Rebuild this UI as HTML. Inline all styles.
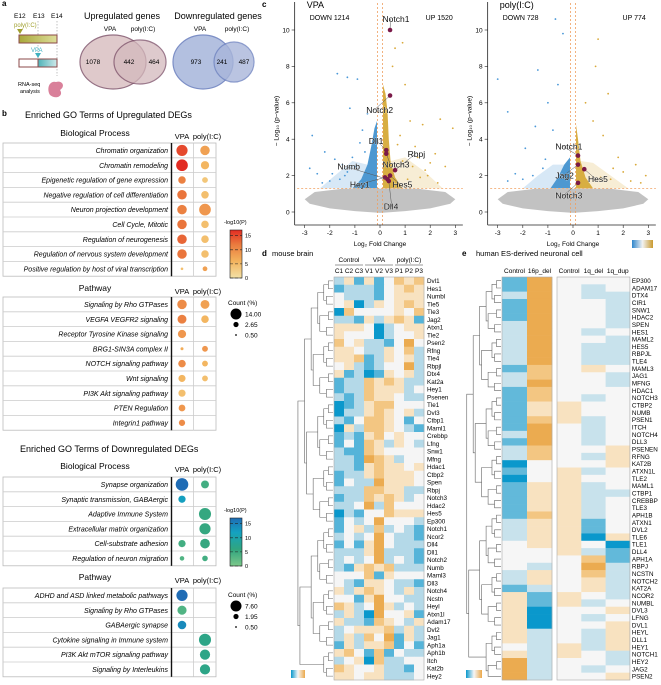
<!DOCTYPE html>
<html><head><meta charset="utf-8"><style>
html,body{margin:0;padding:0;background:#fff;}
svg{display:block;font-family:"Liberation Sans",Arial,sans-serif;}
</style></head><body>
<svg id="fig" width="661" height="685" viewBox="0 0 661 685" xmlns="http://www.w3.org/2000/svg">
<defs>
<linearGradient id="gUp" x1="0" y1="1" x2="0" y2="0"><stop offset="0" stop-color="#f3e1a6"/><stop offset="0.35" stop-color="#f3b35d"/><stop offset="0.7" stop-color="#ea7a3e"/><stop offset="1" stop-color="#e22b22"/></linearGradient>
<linearGradient id="gDn" x1="0" y1="1" x2="0" y2="0"><stop offset="0" stop-color="#7cc88a"/><stop offset="0.35" stop-color="#30a57f"/><stop offset="0.7" stop-color="#14a2c0"/><stop offset="1" stop-color="#1f6cb5"/></linearGradient>
<linearGradient id="gHm" x1="0" y1="0" x2="1" y2="0"><stop offset="0" stop-color="#0a98cc"/><stop offset="0.5" stop-color="#f6f6f6"/><stop offset="1" stop-color="#eba84a"/></linearGradient>
<linearGradient id="gTeal" x1="0" y1="0" x2="1" y2="0"><stop offset="0" stop-color="#4fb3b8"/><stop offset="1" stop-color="#cfe9ea"/></linearGradient>
<linearGradient id="gOlive" x1="0" y1="0" x2="1" y2="0"><stop offset="0" stop-color="#a8a83a"/><stop offset="1" stop-color="#dede9a"/></linearGradient>
</defs>

<g font-size="6.5">
<text x="2" y="6" font-weight="bold" font-size="8">a</text>
<text x="14" y="18">E12</text>
<text x="33" y="18">E13</text>
<text x="51" y="18">E14</text>
<line x1="38" y1="21" x2="38" y2="58" stroke="#999" stroke-dasharray="1.5,1.5" stroke-width="0.6"/>
<line x1="57" y1="21" x2="57" y2="76" stroke="#999" stroke-dasharray="1.5,1.5" stroke-width="0.6"/>
<text x="14" y="27" fill="#a0a030" font-size="6">poly(I:C)</text>
<path d="M17,29 L23,29 L20,34 Z" fill="#a0a030"/>
<rect x="19" y="35" width="38" height="8" fill="url(#gOlive)" stroke="#8b4a4a" stroke-width="1"/>
<text x="31" y="52" fill="#3fb0c0" font-size="6">VPA</text>
<path d="M35,53 L41,53 L38,58 Z" fill="#3fb0c0"/>
<rect x="19" y="59" width="38" height="8" fill="#fff" stroke="#8b4a4a" stroke-width="1"/>
<rect x="38" y="59" width="19" height="8" fill="url(#gTeal)" stroke="#8b4a4a" stroke-width="1"/>
<text x="18" y="86" font-size="5.5">RNA-seq</text>
<text x="20" y="93" font-size="5.5">analysis</text>
<path d="M50,95 C46,88 50,80 56,82 C62,80 66,86 60,90 C64,96 56,100 50,95 Z" fill="#d9809a"/>
<text x="122" y="19" text-anchor="middle" font-size="9">Upregulated genes</text>
<text x="110" y="31" text-anchor="middle">VPA</text>
<text x="143" y="31" text-anchor="middle">poly(I:C)</text>
<ellipse cx="113" cy="62" rx="33" ry="27" fill="#dcc4c6" stroke="#8a6277" stroke-width="1.2" opacity="0.9"/>
<ellipse cx="140" cy="62" rx="26" ry="22" fill="#d4b9bd" stroke="#7a4d66" stroke-width="1.2" opacity="0.75"/>
<text x="93" y="64" text-anchor="middle">1078</text>
<text x="129" y="64" text-anchor="middle">442</text>
<text x="154" y="64" text-anchor="middle">464</text>
<text x="218" y="19" text-anchor="middle" font-size="9">Downregulated genes</text>
<text x="200" y="31" text-anchor="middle">VPA</text>
<text x="237" y="31" text-anchor="middle">poly(I:C)</text>
<ellipse cx="203" cy="62" rx="30" ry="27" fill="#b3c0e0" stroke="#7d8fc6" stroke-width="1.2"/>
<ellipse cx="234" cy="62" rx="20" ry="20" fill="#a9b6da" stroke="#6f83c0" stroke-width="1.2" opacity="0.8"/>
<text x="196" y="64" text-anchor="middle">973</text>
<text x="222" y="64" text-anchor="middle">241</text>
<text x="244" y="64" text-anchor="middle">487</text>
</g>

<g id="pb"></g>
<g id="pc"></g>
<g id="pd"></g>
<g id="pe"></g>
</svg>
<script>
var NS="http://www.w3.org/2000/svg";
function mk(parent,tag,attrs,txt){var e=document.createElementNS(NS,tag);for(var k in attrs)e.setAttribute(k,attrs[k]);if(txt!=null)e.textContent=txt;parent.appendChild(e);return e;}

/* ---------- panel b data ---------- */
var upBPTerms=["Chromatin organization","Chromatin remodeling","Epigenetic regulation of gene expression","Negative regulation of cell differentiation","Neuron projection development","Cell Cycle, Mitotic","Regulation of neurogenesis","Regulation of nervous system development","Positive regulation by host of viral transcription"];
var upBPvpaCount=[11,12,5,8,8,8,8,8,0.6];
var upBPvpaP=[14,16,10,11,10,11,12,11,4];
var upBPpolyCount=[8,6,3,5,12,5,5,5,2];
var upBPpolyP=[7,5,3,4,8,4,4,4,7];
var upPWTerms=["Signaling by Rho GTPases","VEGFA VEGFR2 signaling","Receptor Tyrosine Kinase signaling","BRG1-SIN3A complex II","NOTCH signaling pathway","Wnt signaling","PI3K Akt signaling pathway","PTEN Regulation","Integrin1 pathway"];
var upPWvpaCount=[8,7,6,0.8,5,4.5,4.5,4,3.5];
var upPWvpaP=[9,10,8,6,9,5,4,8,9];
var upPWpolyCount=[7,5,0,3,3,3,0,0,0];
var upPWpolyP=[7,5,0,8,5,4,0,0,0];
var dnBPTerms=["Synapse organization","Synaptic transmission, GABAergic","Adaptive Immune System","Extracellular matrix organization","Cell-substrate adhesion","Regulation of neuron migration"];
var dnBPvpaCount=[7.6,2.5,0,0,2.5,1];
var dnBPvpaP=[16,11,0,0,4,3];
var dnBPpolyCount=[3,0,7,6,4.5,1.5];
var dnBPpolyP=[4,0,5,5,5,4];
var dnPWTerms=["ADHD and ASD linked metabolic pathways","Signaling by Rho GTPases","GABAergic synapse","Cytokine signaling in Immune system","PI3K Akt mTOR signaling pathway","Signaling by Interleukins"];
var dnPWvpaCount=[6,4,3.5,0,0,0];
var dnPWvpaP=[16,3,13,0,0,0];
var dnPWpolyCount=[0,0,0,7,5,5];
var dnPWpolyP=[0,0,0,6,6,6];

function lerpC(stops,t){t=Math.max(0,Math.min(1,t));var n=stops.length-1,i=Math.min(n-1,Math.floor(t*n)),f=t*n-i;var a=stops[i],b=stops[i+1];return "rgb("+[0,1,2].map(function(k){return Math.round(a[k]+(b[k]-a[k])*f)}).join(",")+")";}
var upStops=[[243,225,160],[243,179,93],[234,122,62],[226,43,34]];
var dnStops=[[124,200,138],[48,165,127],[20,162,192],[31,108,181]];
function rScale(c,max){return c<=0?0:Math.max(1,6.3*Math.sqrt(c/max));}

var pb=document.getElementById('pb');
mk(pb,'text',{x:2,y:116,'font-weight':'bold','font-size':8},'b');
function table(y0,terms,vc,vp,pc,pp,stops,max,header,hy,nm){
  var rh=14.8,g=mk(pb,'g',{});
  
  
  mk(g,'text',{x:95,y:hy,'text-anchor':'middle','font-size':8.5},header);
  mk(g,'text',{x:182,y:hy+3,'text-anchor':'middle','font-size':7.5},'VPA');
  mk(g,'text',{x:207,y:hy+3,'text-anchor':'middle','font-size':7.5},'poly(I:C)');
  var h=rh*terms.length;
  mk(g,'rect',{x:3,y:y0,width:213,height:h,fill:'#fff',stroke:'#bbb','stroke-width':0.8});
  for(var i=0;i<terms.length;i++){
    var y=y0+i*rh;
    if(i>0)mk(g,'line',{x1:3,x2:216,y1:y,y2:y,stroke:'#ccc','stroke-width':0.8});
    var t=mk(g,'text',{x:168,y:y+rh/2+2.6,'text-anchor':'end','font-size':7,'font-style':'italic'},terms[i]);
    
    
    if(vc[i]>0){var c=mk(g,'circle',{cx:182,cy:y+rh/2,r:rScale(vc[i],max),fill:lerpC(stops,vp[i]/16)});
      }
    if(pc[i]>0){var c2=mk(g,'circle',{cx:205,cy:y+rh/2,r:rScale(pc[i],max),fill:lerpC(stops,pp[i]/16)});
      }
  }
  mk(g,'line',{x1:171.5,x2:171.5,y1:y0,y2:y0+h,stroke:'#111','stroke-width':1.4});
  mk(g,'line',{x1:193.5,x2:193.5,y1:y0,y2:y0+h,stroke:'#ccc','stroke-width':0.8});
}
mk(pb,'text',{x:25,y:118,'font-size':9},'Enriched GO Terms of Upregulated DEGs');
table(143,upBPTerms,upBPvpaCount,upBPvpaP,upBPpolyCount,upBPpolyP,upStops,14,'Biological Process',136,'up-bp-table');
table(297,upPWTerms,upPWvpaCount,upPWvpaP,upPWpolyCount,upPWpolyP,upStops,14,'Pathway',291,'up-pathway-table');
mk(pb,'text',{x:20,y:452,'font-size':9},'Enriched GO Terms of Downregulated DEGs');
table(477,dnBPTerms,dnBPvpaCount,dnBPvpaP,dnBPpolyCount,dnBPpolyP,dnStops,7.6,'Biological Process',469,'down-bp-table');
table(588,dnPWTerms,dnPWvpaCount,dnPWvpaP,dnPWpolyCount,dnPWpolyP,dnStops,7.6,'Pathway',580,'down-pathway-table');
function cbar(y0,fill,ticks){
  var g=mk(pb,'g',{});
  mk(g,'text',{x:224,y:y0-6,'font-size':5.5},'-log10(P)');
  mk(g,'rect',{x:230,y:y0,width:12,height:48,fill:'url(#'+fill+')',stroke:'#222','stroke-width':0.6});
  ticks.forEach(function(v){var y=y0+48-v/17*48;mk(g,'line',{x1:230,x2:242,y1:y,y2:y,stroke:'#222','stroke-width':0.6,'stroke-dasharray':'3,2'});mk(g,'text',{x:245,y:y+2,'font-size':5.5},String(v));});
}
cbar(230,'gUp',[15,10,5,0]);cbar(518,'gDn',[15,10,5,0]);
function cleg(y0,vals){
  var g=mk(pb,'g',{});
  mk(g,'text',{x:228,y:y0,'font-size':6.5},'Count (%)');
  var rs=[5.5,2.6,0.9];vals.forEach(function(v,i){var y=y0+9+i*10.5;mk(g,'circle',{cx:236,cy:y,r:rs[i],fill:'#000'});mk(g,'text',{x:245,y:y+2.5,'font-size':6.5},v);});
}
cleg(305,['14.00','2.65','0.50']);cleg(597,['7.60','1.95','0.50']);

/* ---------- panel c data ---------- */
var vpaBlueX=[-2.8,-1.7,-1.3,-2.7,-2.2,-1.9,-1.2,-0.9,-1.1,-0.7,-0.5,-2.5,-1.5,-0.8,-1.6,-2.0,-1.3,-1.0,-0.6,-2.3,-1.8,-1.4];
var vpaBlueY=[2.4,7.6,7.4,4.2,3.3,2.1,5.7,7.3,3.0,4.5,5.4,2.1,2.6,3.8,1.8,1.7,2.2,2.5,3.3,1.6,2.9,2.0];
var vpaGoldX=[1.0,1.2,1.7,2.4,2.9,2.2,1.5,0.9,0.6,1.9,2.6,0.5,1.3,0.8,2.0,1.1,1.6,0.7,2.3,1.4,0.9,1.8];
var vpaGoldY=[7.0,5.0,4.8,5.1,4.6,3.2,3.0,9.3,9.0,2.0,2.5,8.0,2.5,4.2,2.7,1.8,1.9,3.7,1.6,3.6,2.8,2.3];
var pBlueX=[-3.0,-2.6,-2.3,-1.4,-0.7,-0.4,-1.5,-1.0,-0.6,-1.9,-0.8,-1.2,-2.0,-1.6,-1.1,-2.6];
var pBlueY=[7.3,5.5,2.1,7.8,10.6,9.8,4.7,6.0,7.0,3.5,4.5,2.4,1.8,2.0,2.9,1.7];
var pGoldX=[1.0,1.4,0.9,2.5,2.9,1.8,0.8,1.2,2.0,0.5,1.6,1.1,2.3,1.5,2.7];
var pGoldY=[9.5,6.5,8.0,2.6,2.0,3.0,5.0,4.2,2.2,6.0,2.4,1.9,1.7,1.8,1.6];
var vpaGenes=["Notch1","Notch2","Dll1","Notch3","Rbpj","Hes5","Hey1","Numb","Dll4"];
var vpaGeneX=[0.4,0.4,0.25,0.25,0.6,0.4,0.2,0.3,0.35];
var vpaGeneY=[10.0,6.4,3.4,3.2,2.3,2.0,1.9,1.8,1.7];
var vpaLabX=[0.1,-0.55,-0.45,0.1,1.1,0.5,-1.2,-1.7,0.15];
var vpaLabY=[10.6,5.6,3.9,2.6,3.2,1.5,1.5,2.5,0.3];
var pGenes=["Notch1","Jag2","Hes5","Notch3"];
var pGeneX=[0.2,0.2,0.45,0.2];
var pGeneY=[3.1,2.6,2.35,1.6];
var pLabX=[-0.7,-0.7,0.6,-0.7];
var pLabY=[3.6,2.0,1.8,0.9];
var xTicks=[-3,-2,-1,0,1,2,3];
var yTicks=[0,2,4,6,8,10];

var pc=document.getElementById('pc');
mk(pc,'text',{x:262,y:7,'font-weight':'bold','font-size':8},'c');
function volcano(x0,name,down,up,bx,by,gx,gy,genes,gX,gY,lX,lY,blob){
  var g=mk(pc,'g',{});
  function X(v){return x0+v*25.1;} function Y(v){return 212-v*18.2;}
  mk(g,'text',{x:X(-3)+2,y:8,'font-size':9},name==='vpa'?'VPA':'poly(I:C)');
  mk(g,'text',{x:X(-2.8),y:20,'font-size':7},down);
  mk(g,'text',{x:X(2.9),y:20,'font-size':7,'text-anchor':'end'},up);
  function poly(pts,fill,op){mk(g,'polygon',{points:pts.map(function(p){return X(p[0])+','+Y(p[1])}).join(' '),fill:fill,opacity:op,'stroke-linejoin':'round'});}
  poly(blob.blueL,'#8cbde6',0.35);
  poly(blob.goldL,'#e8cc88',0.35);
  poly(blob.gray,'#c2c2c2',1);
  poly(blob.blue,'#3a8dcc',0.9);
  poly(blob.gold,'#d4a52e',0.9);
  for(var i=0;i<bx.length;i++){var p=mk(g,'circle',{cx:X(bx[i]),cy:Y(by[i]),r:0.9,fill:'#4a98d8'});}
  for(var j=0;j<gx.length;j++){var q=mk(g,'circle',{cx:X(gx[j]),cy:Y(gy[j]),r:0.9,fill:'#d9a93a'});}
  mk(g,'line',{x1:X(-0.1),x2:X(-0.1),y1:3,y2:225,stroke:'#f0a060','stroke-dasharray':'2,2','stroke-width':0.8});
  mk(g,'line',{x1:X(0.1),x2:X(0.1),y1:3,y2:225,stroke:'#f0a060','stroke-dasharray':'2,2','stroke-width':0.8});
  mk(g,'line',{x1:X(-3.3),x2:X(3.3),y1:Y(1.3),y2:Y(1.3),stroke:'#f0a060','stroke-dasharray':'2,2','stroke-width':0.8});
  for(var k=0;k<genes.length;k++){
    mk(g,'line',{x1:X(gX[k]),y1:Y(gY[k]),x2:X(lX[k])+8,y2:Y(lY[k]),stroke:'#555','stroke-width':0.5});
    var gp=mk(g,'circle',{cx:X(gX[k]),cy:Y(gY[k]),r:2.3,fill:'#7a1a48'});
    var gt=mk(g,'text',{x:X(lX[k]),y:Y(lY[k])+3,'font-size':8.5,fill:'#111',stroke:'#fff','stroke-width':0.4,'paint-order':'stroke'},genes[k]);
  }
  mk(g,'line',{x1:X(-3.4),x2:X(-3.4),y1:2,y2:225,stroke:'#222','stroke-width':0.8});
  mk(g,'line',{x1:X(-3.4),x2:X(3.3),y1:225,y2:225,stroke:'#222','stroke-width':0.8});
  xTicks.forEach(function(v){mk(g,'line',{x1:X(v),x2:X(v),y1:225,y2:228,stroke:'#222','stroke-width':0.6});mk(g,'text',{x:X(v),y:235,'text-anchor':'middle','font-size':6.5},String(v));});
  yTicks.forEach(function(v){mk(g,'line',{x1:X(-3.4)-3,x2:X(-3.4),y1:Y(v),y2:Y(v),stroke:'#222','stroke-width':0.6});mk(g,'text',{x:X(-3.4)-5,y:Y(v)+2.3,'text-anchor':'end','font-size':6.5},String(v));});
  mk(g,'text',{x:X(0),y:246,'text-anchor':'middle','font-size':6.5},'Log\u2082 Fold Change');
  mk(g,'text',{x:0,y:0,'font-size':6.5,'text-anchor':'middle',transform:'translate('+(X(-3.4)-16)+','+Y(5)+') rotate(-90)'},'\u2212 Log\u2081\u2080 (p\u2212value)');
}
volcano(380,'vpa','DOWN 1214','UP 1520',vpaBlueX,vpaBlueY,vpaGoldX,vpaGoldY,vpaGenes,vpaGeneX,vpaGeneY,vpaLabX,vpaLabY,{
 gray:[[-3.0,0.7],[-2.6,1.1],[-1.5,1.28],[1.5,1.28],[2.6,1.1],[3.0,0.7],[2.8,0.45],[2,0.2],[1,0.05],[0,-0.05],[-1,0.05],[-2,0.2],[-2.8,0.45]],
 blue:[[-0.12,1.3],[-1.1,1.3],[-0.75,1.8],[-0.5,2.6],[-0.35,3.6],[-0.22,4.6],[-0.12,5.0]],
 gold:[[0.12,1.3],[0.9,1.3],[0.6,1.9],[0.42,2.8],[0.35,4.0],[0.3,5.5],[0.22,6.5],[0.12,7.0]],
 blueL:[[-1.1,1.3],[-2.4,1.3],[-1.8,2.0],[-1.1,2.8],[-0.5,2.6],[-0.75,1.8]],
 goldL:[[0.9,1.3],[2.5,1.3],[1.8,2.2],[1.0,3.0],[0.42,2.8],[0.6,1.9]]});
volcano(573,'polyic','DOWN 728','UP 774',pBlueX,pBlueY,pGoldX,pGoldY,pGenes,pGeneX,pGeneY,pLabX,pLabY,{
 gray:[[-3.0,0.7],[-2.6,1.1],[-1.5,1.28],[1.5,1.28],[2.6,1.1],[3.0,0.7],[2.8,0.45],[2,0.2],[1,0.05],[0,-0.05],[-1,0.05],[-2,0.2],[-2.8,0.45]],
 blue:[[-0.12,1.3],[-0.9,1.3],[-0.6,1.9],[-0.35,2.6],[-0.12,3.0]],
 gold:[[0.12,1.3],[0.8,1.3],[0.5,1.9],[0.3,2.8],[0.2,4.0],[0.12,4.8]],
 blueL:[[-0.9,1.3],[-2.0,1.3],[-1.4,2.0],[-0.8,2.6],[-0.35,2.6],[-0.6,1.9]],
 goldL:[[0.8,1.3],[2.2,1.3],[1.5,2.0],[0.8,2.7],[0.3,2.8],[0.5,1.9]]});
(function(){var g=mk(pc,'g',{});
 var lg=mk(g,'linearGradient',{id:'gV',x1:0,x2:1,y1:0,y2:0});mk(lg,'stop',{offset:0,'stop-color':'#2f86cc'});mk(lg,'stop',{offset:0.5,'stop-color':'#f2f2f2'});mk(lg,'stop',{offset:1,'stop-color':'#c99a2e'});
 mk(g,'rect',{x:632,y:240,width:21,height:8,fill:'url(#gV)'});})();

/* ---------- panel d data ---------- */
var dGenes=["Dvl1","Hes1","Numbl","Tle5","Tle3","Jag2","Atxn1","Tle2","Psen2","Rfng","Tle4","Rbpjl","Dtx4","Kat2a","Hey1","Psenen","Tle1","Dvl3","Ctbp1","Maml1","Crebbp","Lfng","Snw1","Mfng","Hdac1","Ctbp2","Spen","Rbpj","Notch3","Hdac2","Hes5","Ep300","Notch1","Ncor2","Dll4","Dll1","Notch2","Numb","Maml3","Dll3","Notch4","Ncstn","Heyl","Atxn1l","Adam17","Dvl2","Jag1","Aph1a","Aph1b","Itch","Kat2b","Hey2"];
var dSamples=["C1","C2","C3","V1","V2","V3","P1","P2","P3"];
var dValues=["241413545","122213454","322213444","340243454","053333435","221424541","444302344","433302334","534221363","443224352","445124342","342123362","412014342","122545422","122544423","212544322","012455333","022454342","213554313","042554321","121453433","131542432","211543333","221654233","221454434","122454443","132264443","222554422","122545423","223625333","021335444","132363332","134252321","232363221","131463222","222462221","232362321","214545222","333514333","321443221","424543242","331463322","542364232","242063341","422154324","234445242","242536142","142445131","453151322","234052233","543342213","443442223"];
var hmColors=["#0a98cc","#55b4d9","#b4d9e8","#f5f5f5","#f8e2c0","#f3c682","#ebab50"];

var pd=document.getElementById('pd');
mk(pd,'text',{x:262,y:256,'font-weight':'bold','font-size':8},'d');
mk(pd,'text',{x:272,y:256,'font-size':7.5},'mouse brain');
function dendro(g,x0,x1,y0,rh,n){
  var nodes=[];for(var i=0;i<n;i++)nodes.push({y:y0+(i+0.5)*rh,x:x1});
  var lvl=0;var w=x1-x0;
  while(nodes.length>1){lvl++;var nx=[];
    for(var i=0;i<nodes.length;i+=2){
      if(i+1<nodes.length){var a=nodes[i],b=nodes[i+1];var xx=x1-w*Math.min(1,lvl/6.2)*(0.7+0.3*((i/2)%2));
        xx=Math.min(xx,a.x-2,b.x-2);
        mk(g,'path',{d:'M'+a.x+','+a.y+'H'+xx+'V'+b.y+'H'+b.x,fill:'none',stroke:'#666','stroke-width':0.6});
        nx.push({y:(a.y+b.y)/2,x:xx});}
      else nx.push(nodes[i]);}
    nodes=nx;}
}
(function(){
  var x0=334,cw=10,y0=277,rh=403/52;
  var g=mk(pd,'g',{});
  [['Control',0],['VPA',3],['poly(I:C)',6]].forEach(function(h){mk(g,'text',{x:x0+(h[1]+1.5)*cw,y:262,'text-anchor':'middle','font-size':6.5},h[0]);mk(g,'line',{x1:x0+h[1]*cw+1,x2:x0+(h[1]+3)*cw-1,y1:265,y2:265,stroke:'#333','stroke-width':0.5});});
  dSamples.forEach(function(s,i){mk(g,'text',{x:x0+(i+0.5)*cw,y:273,'text-anchor':'middle','font-size':6.5},s);});
  for(var r=0;r<dGenes.length;r++){for(var c=0;c<dSamples.length;c++){
    var cell=mk(g,'rect',{x:x0+c*cw,y:y0+r*rh,width:cw+0.3,height:rh+0.3,fill:hmColors[+dValues[r][c]]});
    }
    var t=mk(g,'text',{x:x0+9*cw+3,y:y0+r*rh+rh/2+2.3,'font-size':6.3},dGenes[r]);
    }
  mk(g,'rect',{x:x0,y:y0,width:9*cw,height:52*rh,fill:'none',stroke:'#aaa','stroke-width':0.6});
  dendro(g,292,333,y0,rh,52);
  mk(g,'rect',{x:291,y:670,width:14,height:8,fill:'url(#gHm)'});
})();

/* ---------- panel e data ---------- */
var eGenes=["EP300","ADAM17","DTX4","CIR1","SNW1","HDAC2","SPEN","HES1","MAML2","HES5","RBPJL","TLE4","MAML3","JAG1","MFNG","HDAC1","NOTCH3","CTBP2","NUMB","PSEN1","ITCH","NOTCH4","DLL3","PSENEN","RFNG","KAT2B","ATXN1L","TLE2","MAML1","CTBP1","CREBBP","TLE3","APH1B","ATXN1","DVL2","TLE6","TLE1","DLL4","APH1A","RBPJ","NCSTN","NOTCH2","KAT2A","NCOR2","NUMBL","DVL3","LFNG","DVL1","HEYL","DLL1","HEY1","NOTCH1","HEY2","JAG2","PSEN2"];
var e16pGroups=["Control","16p_del"];
var e16pValues=["16","16","26","16","16","16","26","26","26","26","26","26","15","25","26","15","15","14","14","15","16","26","16","25","25","03","13","03","14","14","14","14","15","24","24","24","34","33","33","32","24","24","12","41","41","40","40","40","42","42","32","42","62","62","62"];
var e1qGroups=["Control","1q_del","1q_dup"];
var e1qValues=["333","323","322","332","332","332","332","323","332","322","322","322","343","332","332","333","323","433","433","423","323","323","323","334","324","334","423","433","423","422","423","423","423","413","413","404","430","421","351","362","352","342","342","432","423","334","323","334","324","324","424","432","332","323","334"];

var pe=document.getElementById('pe');
mk(pe,'text',{x:462,y:256,'font-weight':'bold','font-size':8},'e');
mk(pe,'text',{x:476,y:256,'font-size':7.5},'human ES-derived neuronal cell');
(function(){
  var y0=277,rh=403/eGenes.length;
  var g=mk(pe,'g',{});
  var xl=502,cw1=25,xr=557,cw2=24.3;
  var eCol=["#0a98cc","#62b9da","#c8e2ec","#f6f6f6","#f8e2c0","#f3c682","#ebab50"];
  e16pGroups.forEach(function(s,i){mk(g,'text',{x:xl+(i+0.5)*cw1,y:273,'text-anchor':'middle','font-size':6.5},s);});
  e1qGroups.forEach(function(s,i){mk(g,'text',{x:xr+(i+0.5)*cw2,y:273,'text-anchor':'middle','font-size':6.5},s);});
  for(var r=0;r<eGenes.length;r++){
    for(var c=0;c<2;c++){var a=mk(g,'rect',{x:xl+c*cw1,y:y0+r*rh,width:cw1+0.3,height:rh+0.3,fill:eCol[+e16pValues[r][c]]});}
    for(var c2=0;c2<3;c2++){var b=mk(g,'rect',{x:xr+c2*cw2,y:y0+r*rh,width:cw2+0.3,height:rh+0.3,fill:eCol[+e1qValues[r][c2]]});}
    var t=mk(g,'text',{x:xr+3*cw2+2,y:y0+r*rh+rh/2+2.3,'font-size':6.3},eGenes[r]);
    }
  mk(g,'rect',{x:xl,y:y0,width:2*cw1,height:403,fill:'none',stroke:'#aaa','stroke-width':0.6});
  mk(g,'rect',{x:xr,y:y0,width:3*cw2,height:403,fill:'none',stroke:'#aaa','stroke-width':0.6});
  dendro(g,461,501,y0,rh,eGenes.length);
  mk(g,'rect',{x:466,y:670,width:16,height:8,fill:'url(#gHm)'});
})();
</script>
</body></html>
